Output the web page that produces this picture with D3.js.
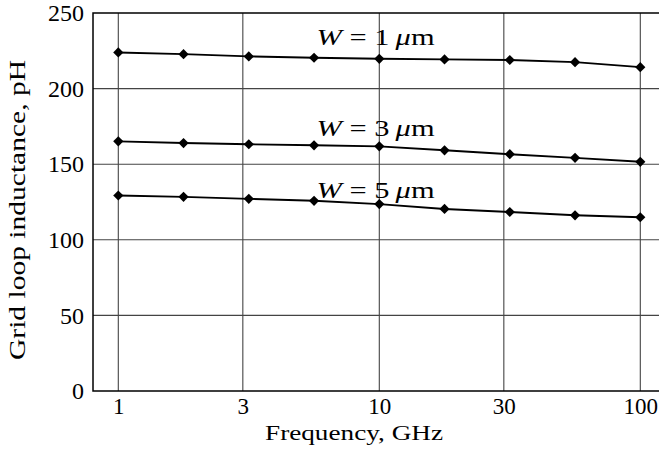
<!DOCTYPE html>
<html>
<head>
<meta charset="utf-8">
<script src="https://cdn.jsdelivr.net/npm/d3@7"></script>
<style>
  body { margin: 0; background: #fff; }
  text { font-family: "Liberation Serif", "DejaVu Serif", serif; fill: #000; }
</style>
</head>
<body>
<svg id="chart" width="659" height="457"></svg>
<script>
// frequency points, GHz (quarter-decade steps)
const freqs = [1, 1.778, 3.162, 5.623, 10, 17.78, 31.62, 56.23, 100];
// grid loop inductance, pH
const w1 = [223.9, 222.8, 221.3, 220.4, 219.7, 219.3, 218.9, 217.5, 214.2];
const w3 = [165.1, 164.0, 163.2, 162.5, 161.8, 159.2, 156.6, 154.2, 151.6];
const w5 = [129.3, 128.4, 127.1, 125.8, 123.6, 120.4, 118.4, 116.2, 114.9];
const seriesNames = ["1", "3", "5"];
const labelFreq = [5.75, 5.75, 5.75];
const labelVal = [228.8, 168.5, 127.9];
const xTicks = [1, 3, 10, 30, 100];
const yTicks = [0, 50, 100, 150, 200, 250];

const series = [w1, w3, w5];
const svg = d3.select("#chart");

// x: log axis, the plot runs past the right edge of the picture
const x = d3.scaleLog().domain([1, 100]).range([118.3, 640.3]);
const y = d3.scaleLinear().domain([0, 250]).range([391, 13]);
const xLeft = x(0.8), xRight = x(130);

// grid
svg.append("g").selectAll("line").data(xTicks).join("line")
  .attr("x1", d => x(d)).attr("x2", d => x(d))
  .attr("y1", y(0)).attr("y2", y(250))
  .attr("stroke", "#444").attr("stroke-width", 1.1);
svg.append("g").selectAll("line").data(yTicks.filter(d => d > 0 && d < 250)).join("line")
  .attr("x1", xLeft).attr("x2", xRight)
  .attr("y1", d => y(d)).attr("y2", d => y(d))
  .attr("stroke", "#444").attr("stroke-width", 1.1);

// frame (left, top, bottom)
svg.append("path")
  .attr("d", `M${xRight},${y(250)}H${xLeft}V${y(0)}H${xRight}`)
  .attr("fill", "none").attr("stroke", "#000").attr("stroke-width", 1.5);

// axes
const xAxis = svg.append("g").attr("transform", `translate(0,${y(0)})`)
  .call(d3.axisBottom(x).tickValues(xTicks).tickFormat(d3.format("d")).tickSize(0).tickPadding(7));
xAxis.select(".domain").remove();
xAxis.selectAll("text").attr("font-size", 23).attr("font-family", "Liberation Serif").attr("fill", "#000");

const yAxis = svg.append("g").attr("transform", `translate(${xLeft},0)`)
  .call(d3.axisLeft(y).tickValues(yTicks).tickSize(0).tickPadding(9));
yAxis.select(".domain").remove();
yAxis.selectAll("text").attr("font-size", 24).attr("font-family", "Liberation Serif").attr("fill", "#000");

// axis titles (glyphs widened a little to get the wider look of the original face)
svg.append("text")
  .attr("x", 354).attr("y", 440)
  .attr("text-anchor", "middle").attr("font-size", 22)
  .attr("textLength", 178).attr("lengthAdjust", "spacingAndGlyphs")
  .text("Frequency, GHz");
svg.append("text")
  .attr("transform", "translate(25,210) rotate(-90)")
  .attr("text-anchor", "middle").attr("font-size", 23)
  .attr("textLength", 300).attr("lengthAdjust", "spacingAndGlyphs")
  .text("Grid loop inductance, pH");

// lines + diamonds
const line = d3.line().x((d, i) => x(freqs[i])).y(d => y(d));
const diamond = d3.symbol().type(d3.symbolSquare).size(52);
series.forEach(vals => {
  svg.append("path").datum(vals)
    .attr("d", line)
    .attr("fill", "none").attr("stroke", "#000").attr("stroke-width", 1.9);
  svg.append("g").selectAll("path").data(vals).join("path")
    .attr("transform", (d, i) => `translate(${x(freqs[i])},${y(d)}) rotate(45)`)
    .attr("d", diamond).attr("fill", "#000");
});

// series labels
seriesNames.forEach((n, i) => {
  const t = svg.append("text")
    .attr("x", x(labelFreq[i])).attr("y", y(labelVal[i]))
    .attr("font-size", 24)
    .attr("textLength", 118).attr("lengthAdjust", "spacingAndGlyphs");
  t.append("tspan").attr("font-style", "italic").text("W");
  t.append("tspan").text(" = " + n + "\u2009");
  t.append("tspan").attr("font-style", "italic").text("\u03bc");
  t.append("tspan").text("m");
});
</script>
</body>
</html>
